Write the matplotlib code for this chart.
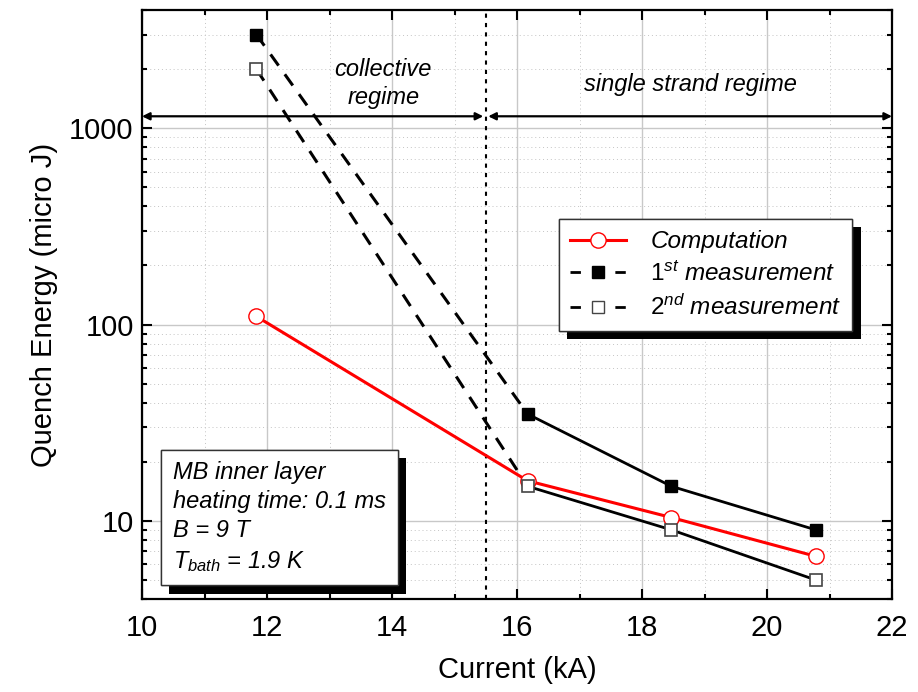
import matplotlib
matplotlib.use('Agg')
import matplotlib.pyplot as plt
import matplotlib.patheffects as pe
from matplotlib.ticker import LogLocator, FixedLocator, NullFormatter, MultipleLocator, FixedFormatter
from matplotlib.lines import Line2D

plt.rcParams['font.family'] = ['Liberation Sans', 'DejaVu Sans']
plt.rcParams['mathtext.fontset'] = 'custom'
plt.rcParams['mathtext.it'] = 'Liberation Sans:italic'
plt.rcParams['mathtext.rm'] = 'Liberation Sans'
plt.rcParams['mathtext.default'] = 'it'

# ---- data ----
current = [11.83, 16.17, 18.47, 20.78]
energy_computation = [110, 16, 10.4, 6.6]
energy_meas1 = [3000, 35, 15, 9]
energy_meas2 = [2000, 15, 9, 5]
regime_boundary = 15.5
arrow_level = 1150
xticks = [10, 12, 14, 16, 18, 20, 22]
yticks = [10, 100, 1000]
ytick_labels = ['10', '100', '1000']
legend_labels = ['Computation', r'$1^{st}$ measurement', r'$2^{nd}$ measurement']
info_lines = ['MB inner layer', 'heating time: 0.1 ms', 'B = 9 T', r'$T_{bath}$ = 1.9 K']

fig = plt.figure(figsize=(9.18, 6.92), dpi=100)
ax = fig.add_axes([142/918, 1-599/692, 750/918, 589/692])
ax.set_xlim(10, 22)
ax.set_yscale('log')
ax.set_ylim(4, 4000)

# grid
ax.grid(True, which='major', color='#c8c8c8', lw=1.0, ls='-')
ax.grid(True, which='minor', color='#c4c4c4', lw=0.7, ls=(0, (1, 3)))
ax.set_axisbelow(True)

ax.xaxis.set_major_locator(FixedLocator(xticks))
ax.xaxis.set_minor_locator(MultipleLocator(1))
ax.yaxis.set_major_locator(FixedLocator(yticks))
ax.yaxis.set_major_formatter(FixedFormatter(ytick_labels))
ax.yaxis.set_minor_locator(LogLocator(base=10, subs=range(2, 10)))
ax.yaxis.set_minor_formatter(NullFormatter())

ax.tick_params(which='both', direction='in', top=True, right=True, width=1.5, labelsize=21)
ax.tick_params(which='major', length=7.5)
ax.tick_params(which='minor', length=3.5)
ax.tick_params(axis='x', pad=11)
ax.tick_params(axis='y', pad=6)
for s in ax.spines.values():
    s.set_linewidth(1.6)

# regime boundary
ax.axvline(regime_boundary, color='k', lw=1.5, ls=(0, (2, 2.5)), zorder=2)

# measurement 1
ax.plot(current[:2], energy_meas1[:2], color='k', lw=2.2, ls=(0, (4.5, 3.5)), zorder=3)
ax.plot(current[1:], energy_meas1[1:], color='k', lw=2.0, ls='-', zorder=3)
ax.plot(current, energy_meas1, ls='none', marker='s', ms=8, mfc='k', mec='k', zorder=5)
# measurement 2
ax.plot(current[:2], energy_meas2[:2], color='k', lw=2.2, ls=(0, (4.5, 3.5)), zorder=3)
ax.plot(current[1:], energy_meas2[1:], color='k', lw=2.0, ls='-', zorder=3)
ax.plot(current, energy_meas2, ls='none', marker='s', ms=8, mfc='white', mec='#444444', mew=1.2, zorder=5)
# computation
ax.plot(current, energy_computation, color='red', lw=2.2, marker='o', ms=11,
        mfc='white', mec='red', mew=1.0, zorder=4)

# regime arrows
ap = dict(arrowstyle='<|-|>', lw=1.6, color='k', shrinkA=0, shrinkB=0, mutation_scale=11)
ax.annotate('', xy=(10, arrow_level), xytext=(regime_boundary - 0.04, arrow_level), arrowprops=ap)
ax.annotate('', xy=(22, arrow_level), xytext=(regime_boundary + 0.04, arrow_level), arrowprops=ap)

ax.text(13.86, 2000, 'collective', style='italic', fontsize=17, ha='center', va='center')
ax.text(13.86, 1430, 'regime', style='italic', fontsize=17, ha='center', va='center')
ax.text(18.77, 1670, 'single strand regime', style='italic', fontsize=17, ha='center', va='center')

# labels
ax.set_xlabel('Current (kA)', fontsize=21, labelpad=10)
ax.set_ylabel('Quench Energy (micro J)', fontsize=21, labelpad=8)

# legend
leg_dash = (0, (3.75, 12.4))
handles = [
    Line2D([], [], color='red', lw=2.2, marker='o', ms=11, mfc='white', mec='red'),
    Line2D([], [], color='k', lw=2.0, ls=leg_dash, marker='s', ms=8, mfc='k', mec='k'),
    Line2D([], [], color='k', lw=2.0, ls=leg_dash, marker='s', ms=8, mfc='white', mec='#444444'),
]
leg = ax.legend(handles, legend_labels, loc='upper right', bbox_to_anchor=(0.947, 0.645),
                prop={'style': 'italic', 'size': 17.5}, frameon=True, fancybox=False,
                edgecolor='#333333', framealpha=1, handlelength=2.3, handletextpad=1.0,
                labelspacing=0.35, borderpad=0.45, borderaxespad=0)
leg.get_frame().set_linewidth(1.0)
leg.get_frame().set_path_effects([pe.withSimplePatchShadow(offset=(6, -6), shadow_rgbFace='k', alpha=1), pe.Normal()])
leg.set_zorder(10)

# info box
t = ax.text(0.041, 0.043, '\n'.join(info_lines), transform=ax.transAxes, style='italic',
            fontsize=17, ha='left', va='bottom', linespacing=1.35,
            bbox=dict(boxstyle='square,pad=0.5', fc='white', ec='#333333', lw=1.0), zorder=10)
t.get_bbox_patch().set_path_effects([pe.withSimplePatchShadow(offset=(6, -6), shadow_rgbFace='k', alpha=1), pe.Normal()])

fig.savefig('out.png', dpi=100)
